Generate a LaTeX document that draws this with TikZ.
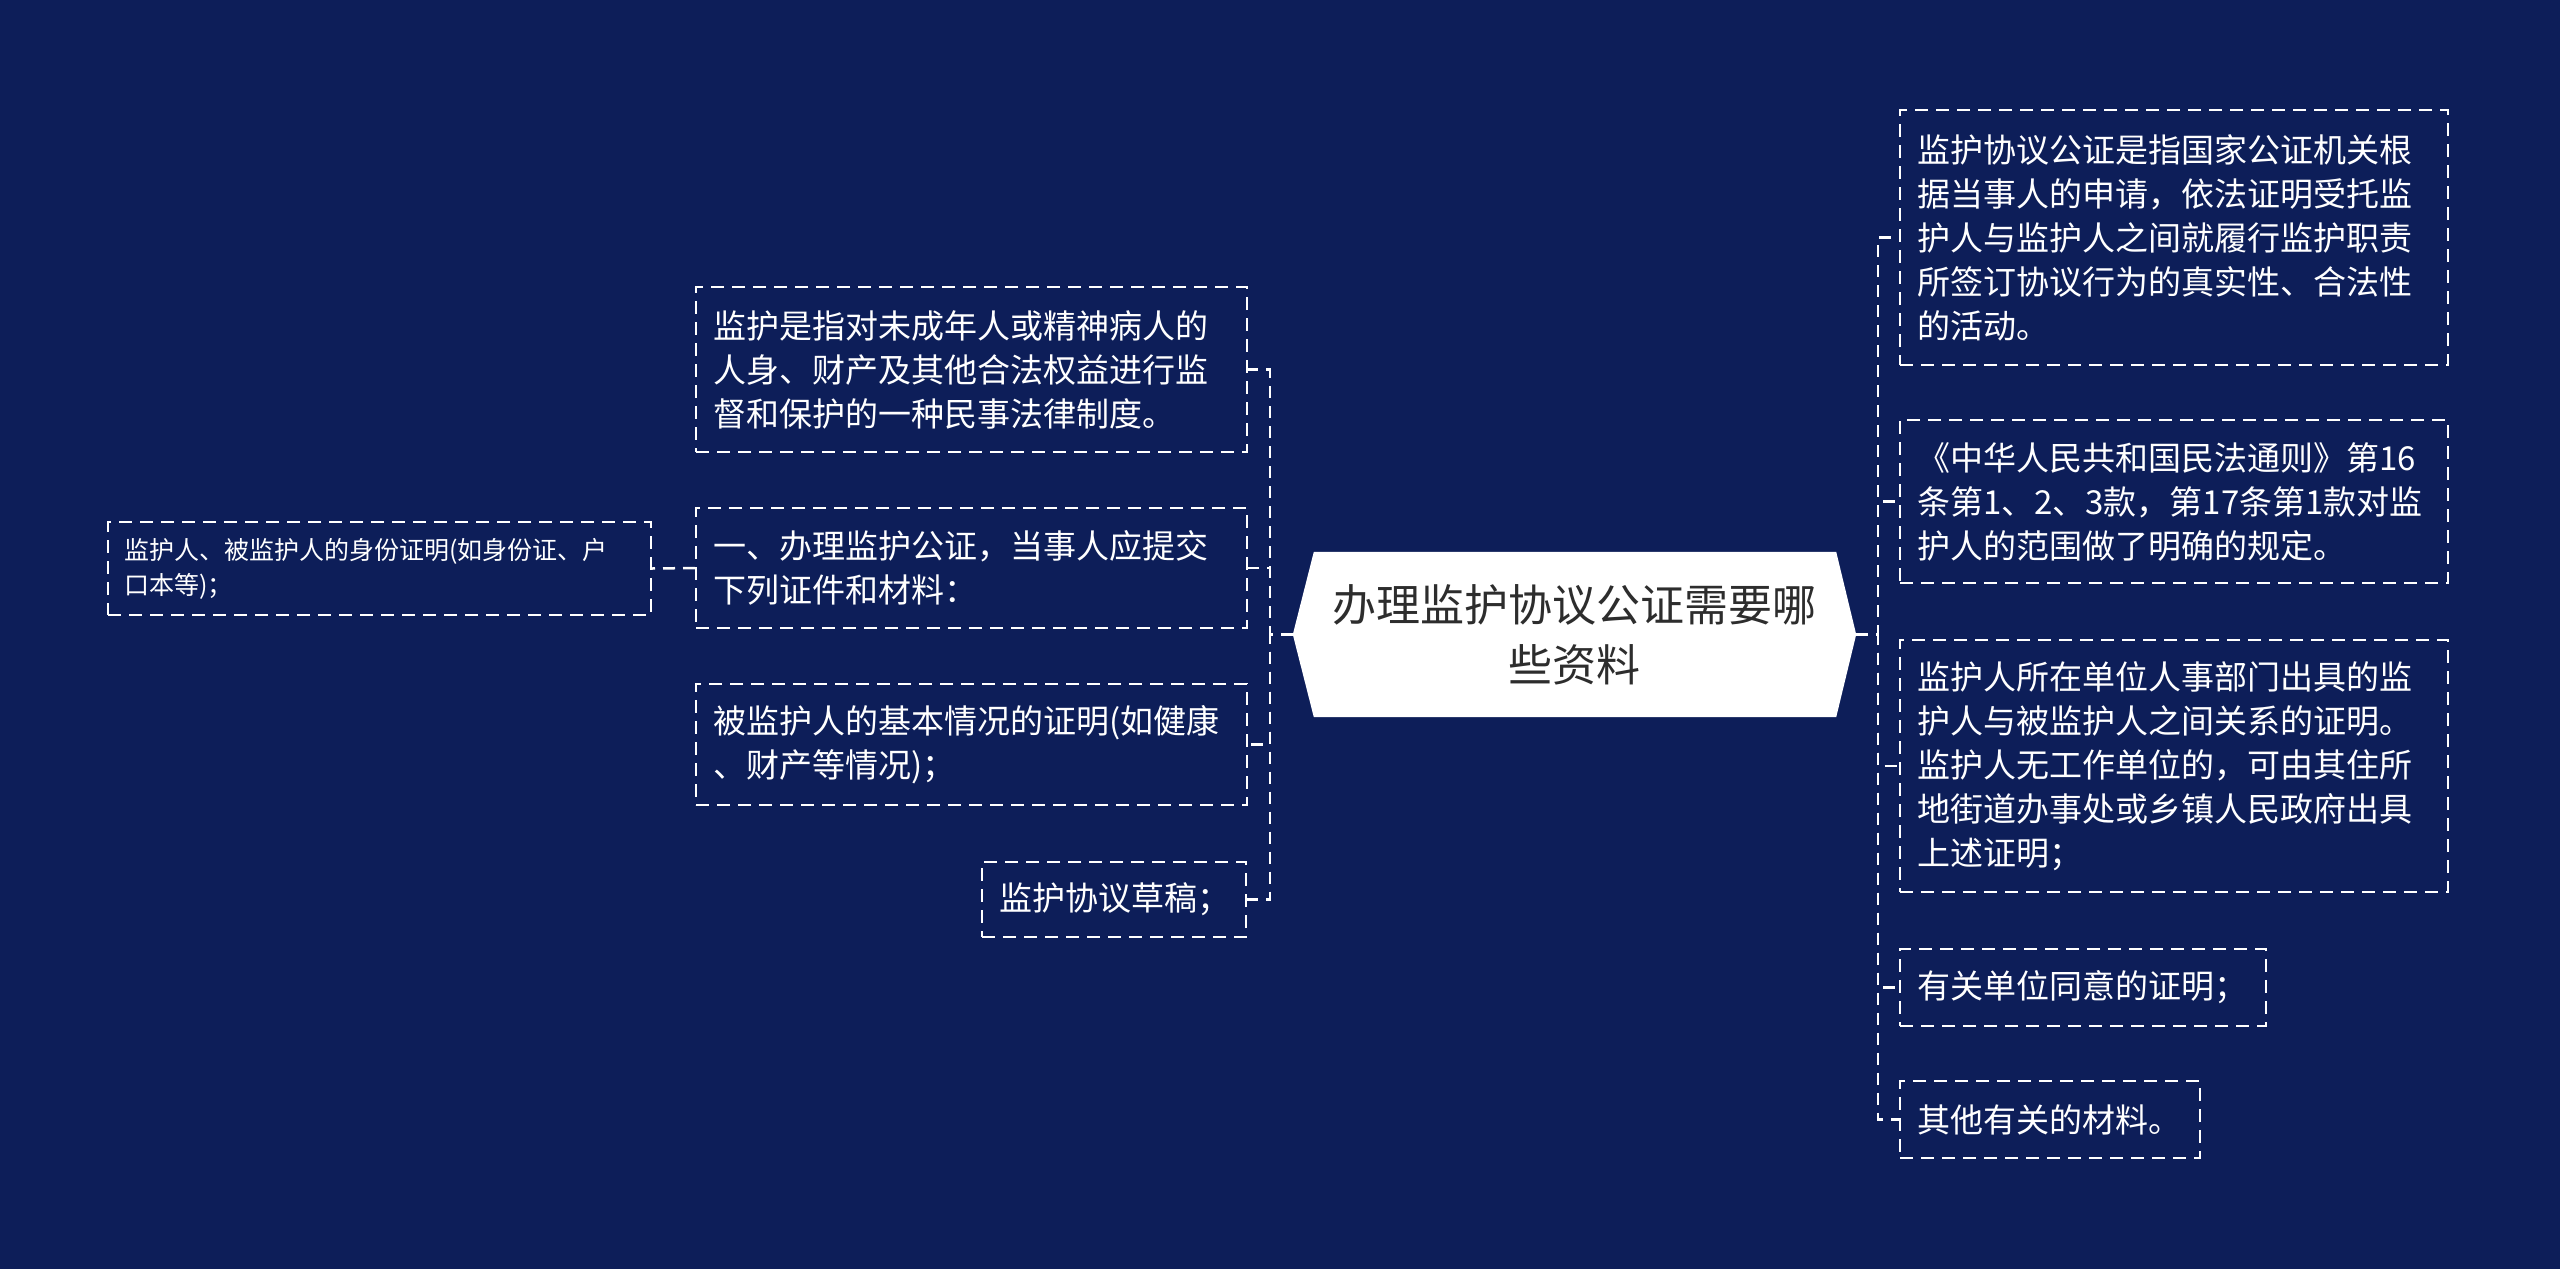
\documentclass[tikz,border=0pt]{standalone}
\usepackage{fontspec}
\setmainfont{Noto Sans CJK SC}
\usetikzlibrary{backgrounds}
\definecolor{bgc}{RGB}{13,30,89}
\definecolor{ctext}{RGB}{45,45,45}
\begin{document}
\begin{tikzpicture}[x=1pt,y=-1pt,
  box/.style={draw=white, line width=2pt, dash pattern=on 13pt off 8pt, text=white, align=left,
    inner xsep=17pt, inner ysep=0pt, font=\fontsize{33}{44}\selectfont},
  smallbox/.style={box, inner xsep=16pt, font=\fontsize{25}{35}\selectfont},
  conn/.style={draw=white, line width=2.5pt, dash pattern=on 12pt off 8pt},
  centernode/.style={text=ctext, align=center, inner sep=0pt, font=\fontsize{44}{60}\selectfont}]
\useasboundingbox (0,0) rectangle (2560,1269);

% central node
\node[centernode, minimum width=563pt, minimum height=165pt] (C) at (1574.5,634.5)
  {办理监护协议公证需要哪\\些资料};

% left nodes
\node[box, minimum width=551pt, minimum height=165pt, text width=517pt] (L1) at (971.5,369.5)
  {监护是指对未成年人或精神病人的\\人身、财产及其他合法权益进行监\\督和保护的一种民事法律制度。};
\node[box, minimum width=551pt, minimum height=120pt, text width=517pt] (L2) at (971.5,568)
  {一、办理监护公证，当事人应提交\\下列证件和材料：};
\node[box, minimum width=551pt, minimum height=121pt, text width=517pt] (L3) at (971.5,744.5)
  {被监护人的基本情况的证明(如健康\\、财产等情况)；};
\node[box, minimum width=264pt, minimum height=75pt, text width=230pt] (L4) at (1114,899.5)
  {监护协议草稿；};
\node[smallbox, minimum width=543pt, minimum height=93pt, text width=511pt] (LL) at (379.5,568.5)
  {监护人、被监护人的身份证明(如身份证、户\\口本等)；};

% right nodes
\node[box, minimum width=548pt, minimum height=255pt, text width=514pt] (R1) at (2174,237.5)
  {监护协议公证是指国家公证机关根\\据当事人的申请，依法证明受托监\\护人与监护人之间就履行监护职责\\所签订协议行为的真实性、合法性\\的活动。};
\node[box, minimum width=548pt, minimum height=163pt, text width=514pt] (R2) at (2174,501.5)
  {《中华人民共和国民法通则》第16\\条第1、2、3款，第17条第1款对监\\护人的范围做了明确的规定。};
\node[box, minimum width=548pt, minimum height=252pt, text width=514pt] (R3) at (2174,766)
  {监护人所在单位人事部门出具的监\\护人与被监护人之间关系的证明。\\监护人无工作单位的，可由其住所\\地街道办事处或乡镇人民政府出具\\上述证明；};
\node[box, minimum width=366pt, minimum height=77pt, text width=332pt] (R4) at (2083,987.5)
  {有关单位同意的证明；};
\node[box, minimum width=300pt, minimum height=77pt, text width=266pt] (R5) at (2050,1119.5)
  {其他有关的材料。};

% junctions
\coordinate (lj) at ([xshift=-23pt]C.west);
\coordinate (rj) at ([xshift=22pt]C.east);

% connectors
\foreach \n in {L1,L2,L3,L4} {
  \draw[conn] (C.west) -- (lj) |- (\n.east);
}
\foreach \n in {R1,R2,R3,R4,R5} {
  \draw[conn] (C.east) -- (rj) |- (\n.west);
}
\draw[conn] (L2.west) -- (LL.east);

% background and central hexagon
\begin{pgfonlayer}{background}
  \fill[bgc] (0,0) rectangle (2560,1269);
  \fill[white] ([xshift=21pt]C.north west) -- ([xshift=-20pt]C.north east) -- (C.east)
    -- ([xshift=-20pt]C.south east) -- ([xshift=21pt]C.south west) -- (C.west) -- cycle;
\end{pgfonlayer}
\end{tikzpicture}
\end{document}
